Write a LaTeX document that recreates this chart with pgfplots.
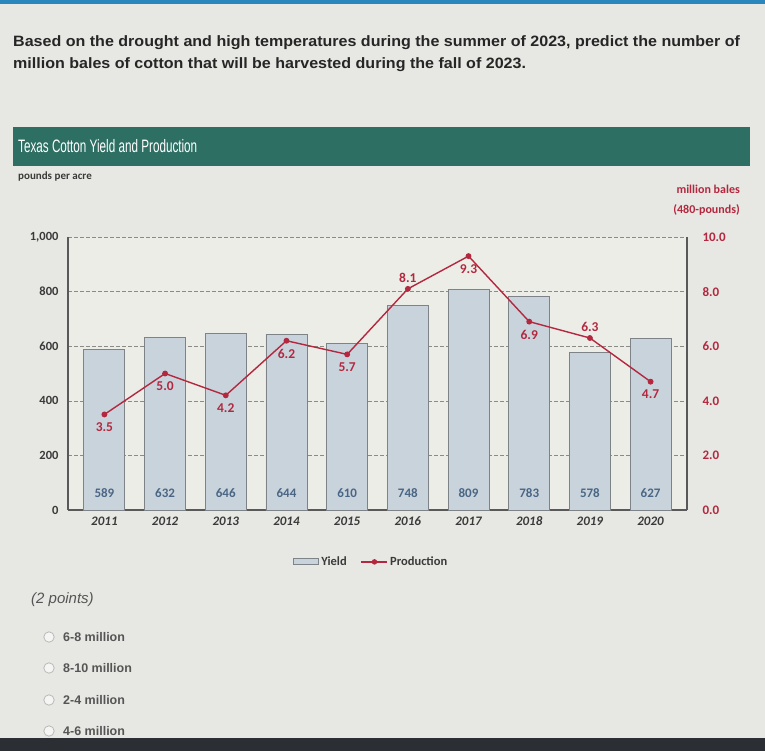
\documentclass[border=0pt]{standalone}
\usepackage{pgfplots}
\pgfplotsset{compat=1.18}
\usepackage{fontspec}
\setmainfont{Liberation Sans}
\newfontfamily\chartfont{Carlito}
\definecolor{bg}{HTML}{E7E7E3}
\definecolor{plotbg}{HTML}{EDEDE8}
\definecolor{topblue}{HTML}{2B86BE}
\definecolor{banner}{HTML}{2E6F63}
\definecolor{qtext}{HTML}{262626}
\definecolor{barfill}{HTML}{C9D3DC}
\definecolor{bardraw}{HTML}{7E8388}
\definecolor{gridc}{HTML}{8A8A86}
\definecolor{linered}{HTML}{B3283F}
\definecolor{yieldtxt}{HTML}{4A6685}
\definecolor{ticktxt}{HTML}{3A3A3A}
\definecolor{opttxt}{HTML}{555555}
\definecolor{bottombar}{HTML}{2B2F34}
\pgfplotsset{
  barlegend/.style={legend image code/.code={\draw[##1] (0pt,-3pt) rectangle (25pt,3pt);}},
  linelegend/.style={legend image code/.code={\draw[##1] (0pt,0pt) -- (26pt,0pt); \fill[linered] (13pt,0pt) circle (2pt);}},
}
\begin{document}
\begin{tikzpicture}[x=1pt,y=1pt]
\fill[bg] (0,0) rectangle (765,-751);
\fill[topblue] (0,0) rectangle (765,-4);
\fill[bottombar] (0,-738) rectangle (765,-751);
\node[anchor=base west, inner sep=0, text=qtext, font=\bfseries\fontsize{15}{17}\selectfont] at (13,-47) {\scalebox{1.07}[1]{Based on the drought and high temperatures during the summer of 2023, predict the number of}};
\node[anchor=base west, inner sep=0, text=qtext, font=\bfseries\fontsize{15}{17}\selectfont] at (13,-69) {\scalebox{1.07}[1]{million bales of cotton that will be harvested during the fall of 2023.}};
\fill[banner] (13,-127) rectangle (750,-166);
\node[anchor=base west, inner sep=0, text=white, font=\fontsize{18}{20}\selectfont] at (18,-153) {\scalebox{0.65}[1]{Texas Cotton Yield and Production}};
\node[anchor=base west, inner sep=0, text=ticktxt, font=\chartfont\bfseries\fontsize{11}{13}\selectfont] at (18,-180) {pounds per acre};
\node[anchor=base east, inner sep=0, text=linered, font=\chartfont\bfseries\fontsize{12}{14}\selectfont] at (740,-194) {million bales};
\node[anchor=base east, inner sep=0, text=linered, font=\chartfont\bfseries\fontsize{12}{14}\selectfont] at (740,-214) {(480-pounds)};
\begin{axis}[
  at={(68pt,-237pt)}, anchor=north west,
  width=619pt, height=273pt, scale only axis,
  xmin=2010.4, xmax=2020.6, ymin=0, ymax=1000,
  axis background/.style={fill=plotbg},
  axis line style={draw=gray!70!black, line width=1.1pt},
  xtick={2011,...,2020},
  xticklabels={2011,2012,2013,2014,2015,2016,2017,2018,2019,2020},
  xticklabel style={font=\chartfont\bfseries\itshape\fontsize{13}{15}\selectfont, text=ticktxt, yshift=-3pt},
  ytick={0,200,400,600,800,1000},
  yticklabels={0,200,400,600,800,{1,000}},
  yticklabel style={font=\chartfont\bfseries\fontsize{12.5}{14}\selectfont, text=ticktxt, xshift=-6pt},
  ymajorgrids, grid style={dash pattern=on 4pt off 2pt, gridc, line width=0.6pt},
  major tick length=0pt,
  axis x line*=bottom, axis y line*=left,
]
\addplot[ybar, bar width=41pt, fill=barfill, draw=bardraw, line width=0.9pt] coordinates {
(2011,589) (2012,632) (2013,646) (2014,644) (2015,610) (2016,748) (2017,809) (2018,783) (2019,578) (2020,627)};
\addplot[draw=none, mark=none, forget plot, nodes near coords, point meta=explicit symbolic,
  every node near coord/.style={anchor=center, text=yieldtxt, font=\chartfont\bfseries\fontsize{13}{15}\selectfont}] coordinates {
(2011,62)[589] (2012,62)[632] (2013,62)[646] (2014,62)[644] (2015,62)[610] (2016,62)[748] (2017,62)[809] (2018,62)[783] (2019,62)[578] (2020,62)[627]};
\end{axis}
\begin{axis}[
  at={(68pt,-237pt)}, anchor=north west,
  width=619pt, height=273pt, scale only axis,
  xmin=2010.4, xmax=2020.6, ymin=0, ymax=10,
  axis x line=none, axis y line*=right,
  axis line style={draw=gray!70!black, line width=1.1pt},
  ytick={0,2,4,6,8,10},
  yticklabels={0.0,2.0,4.0,6.0,8.0,10.0},
  yticklabel style={font=\chartfont\bfseries\fontsize{13}{15}\selectfont, text=linered, xshift=12pt},
  major tick length=0pt,
  legend columns=2,
  legend style={draw=none, fill=none, at={(0.49,-0.19)}, anchor=center, font=\chartfont\bfseries\fontsize{12.5}{14}\selectfont, text=ticktxt, /tikz/every even column/.append style={column sep=12pt}},
]
\addlegendimage{barlegend, fill=barfill, draw=bardraw, line width=0.9pt}
\addlegendentry{Yield}
\addplot[linelegend, linered, line width=1.4pt, mark=*, mark size=2.2pt, mark options={fill=linered}] coordinates {
(2011,3.5) (2012,5.0) (2013,4.2) (2014,6.2) (2015,5.7) (2016,8.1) (2017,9.3) (2018,6.9) (2019,6.3) (2020,4.7)};
\addlegendentry{Production}
\addplot[draw=none, mark=none, forget plot, nodes near coords, point meta=explicit symbolic,
  every node near coord/.style={anchor=north, yshift=-5pt, text=linered, font=\chartfont\bfseries\fontsize{13.5}{15}\selectfont}] coordinates {
(2011,3.5)[3.5] (2012,5.0)[5.0] (2013,4.2)[4.2] (2014,6.2)[6.2] (2015,5.7)[5.7] (2017,9.3)[9.3] (2018,6.9)[6.9] (2020,4.7)[4.7]};
\addplot[draw=none, mark=none, forget plot, nodes near coords, point meta=explicit symbolic,
  every node near coord/.style={anchor=south, yshift=3pt, text=linered, font=\chartfont\bfseries\fontsize{13.5}{15}\selectfont}] coordinates {
(2016,8.1)[8.1] (2019,6.3)[6.3]};
\end{axis}
\node[anchor=base west, inner sep=0, text=opttxt, font=\itshape\fontsize{15}{17}\selectfont] at (31,-603) {(2 points)};
\foreach \yy/\txt in {637/6-8 million, 668/8-10 million, 700/2-4 million, 731/4-6 million}{
  \draw[gray!55, line width=0.8pt, fill=white!60!bg] (49,-\yy) circle (5.2);
  \node[anchor=west, inner sep=0, text=opttxt, font=\bfseries\fontsize{12.5}{14}\selectfont] at (63,-\yy) {\txt};
}
\end{tikzpicture}
\end{document}
